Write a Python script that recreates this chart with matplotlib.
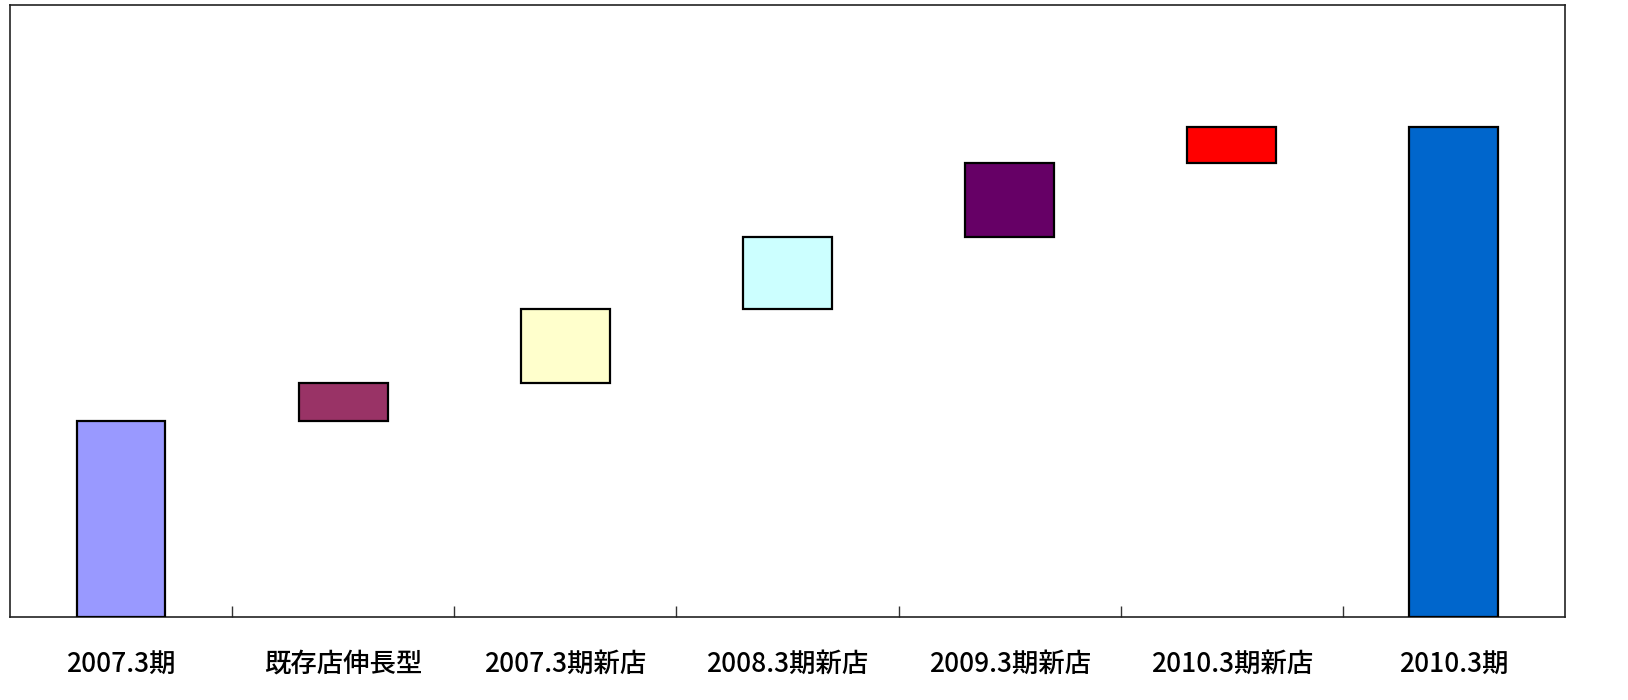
import numpy as np
import matplotlib.pyplot as plt

plt.rcParams['font.family'] = ['Noto Sans CJK JP', 'DejaVu Sans']

categories = ['2007.3期', '既存店伸長型', '2007.3期新店', '2008.3期新店',
              '2009.3期新店', '2010.3期新店', '2010.3期']
start_value = 40.0
increments = [7.8, 15.1, 14.7, 15.1, 7.3]
colors = ['#9999FF', '#993366', '#FFFFCC', '#CCFFFF', '#660066', '#FF0000', '#0066CC']

# waterfall: floating bars for increments, full bars at both ends
cum = np.cumsum([start_value] + increments)
bottoms = [0.0] + list(cum[:-1]) + [0.0]
heights = [start_value] + increments + [cum[-1]]

fig = plt.figure(figsize=(16.28, 7.0), dpi=100, facecolor='white')
ax = fig.add_axes([0.0061, 0.1186, 0.9552, 0.8743])

x = np.arange(len(categories))
ax.bar(x, heights, bottom=bottoms, width=0.4, color=colors,
       edgecolor='black', linewidth=1.6, zorder=3)

ax.set_xlim(-0.5, len(categories) - 0.5)
ax.set_ylim(0, cum[-1] * 612 / 490)

ax.set_xticks(x)
ax.set_xticklabels(categories, fontsize=19, fontweight='medium')
ax.set_xticks(np.arange(0.5, len(categories) - 1, 1), minor=True)
ax.tick_params(axis='x', which='major', length=0, pad=24)
ax.tick_params(axis='x', which='minor', direction='in', length=8, width=1, color='#333333')
ax.set_yticks([])

for s in ax.spines.values():
    s.set_linewidth(1.2)
    s.set_color('#222222')

fig.savefig('out.png', dpi=100, facecolor='white')
